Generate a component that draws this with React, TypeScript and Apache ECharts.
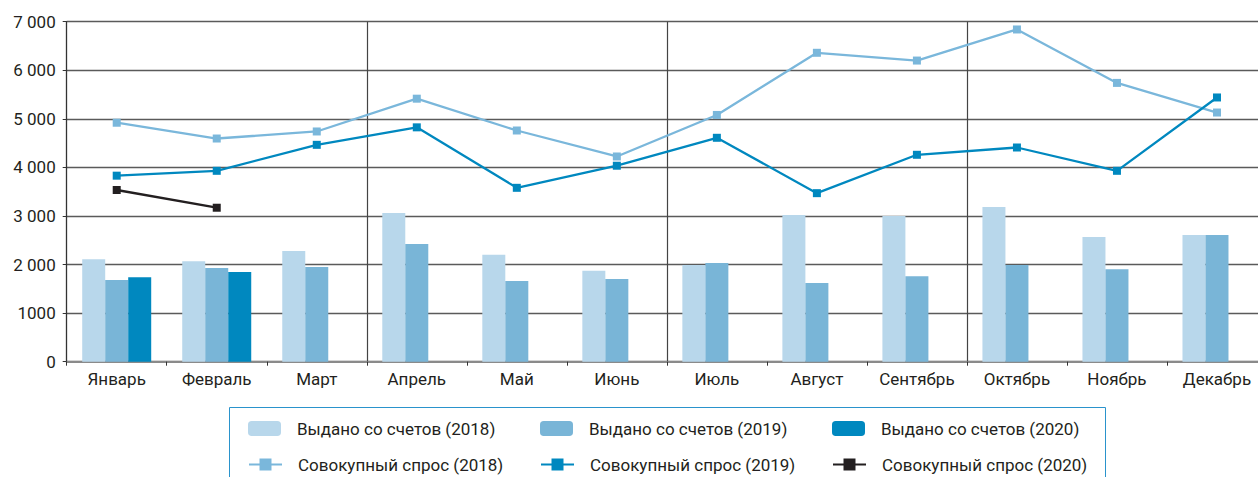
import React, { useEffect, useRef } from "react";
import * as echarts from "echarts";

const months = ["Январь", "Февраль", "Март", "Апрель", "Май", "Июнь", "Июль", "Август", "Сентябрь", "Октябрь", "Ноябрь", "Декабрь"];
const issued2018 = [2110, 2070, 2280, 3060, 2200, 1870, 1990, 3020, 3000, 3185, 2565, 2610];
const issued2019 = [1680, 1930, 1950, 2425, 1660, 1705, 2030, 1620, 1760, 1990, 1905, 2610];
const issued2020 = [1740, 1845, null, null, null, null, null, null, null, null, null, null];
const demand2018 = [4920, 4595, 4740, 5415, 4760, 4225, 5080, 6360, 6200, 6840, 5740, 5130];
const demand2019 = [3830, 3930, 4465, 4825, 3580, 4035, 4610, 3470, 4260, 4410, 3930, 5440];
const demand2020 = [3535, 3170, null, null, null, null, null, null, null, null, null, null];
const yTicks = { min: 0, max: 7000, interval: 1000 };

const names = [
  "Выдано со счетов (2018)",
  "Выдано со счетов (2019)",
  "Выдано со счетов (2020)",
  "Совокупный спрос (2018)",
  "Совокупный спрос (2019)",
  "Совокупный спрос (2020)",
];

const FONT = "Roboto";
const TXT = "#231F20";

export default function App() {
  const ref = useRef<HTMLDivElement>(null);
  useEffect(() => {
    document.body.style.margin = "0";
    const chart = echarts.init(ref.current!, null, { renderer: "svg" });
    const colLeft = [248, 540, 832];
    const legends: any[] = names.map((n, i) => ({
      data: [n],
      left: colLeft[i % 3],
      top: i < 3 ? 420 : 456,
      padding: 0,
      itemWidth: 33,
      itemHeight: 15,
      selectedMode: false,
      textStyle: { fontFamily: FONT, fontSize: 17, color: TXT, padding: [0, 0, 0, 11] },
    }));
    const fmt = (v: number) => (v >= 2000 ? String(v).replace(/(\d)(\d{3})$/, "$1 $2") : String(v));
    chart.setOption({
      animation: false,
      textStyle: { fontFamily: FONT },
      legend: legends,
      graphic: [
        {
          type: "rect",
          shape: { x: 229.5, y: 407.5, width: 876, height: 100 },
          style: { fill: "none", stroke: "#2A93CC", lineWidth: 1 },
          silent: true,
        },
      ],
      grid: { left: 66.7, right: 0, top: 21.7, bottom: 115.3 },
      xAxis: {
        type: "category",
        data: months,
        boundaryGap: true,
        axisLine: { show: true, lineStyle: { color: "#8a8a8a", width: 2 } },
        axisTick: { show: true, length: 4, interval: 0, lineStyle: { color: "#333" } },
        axisLabel: { interval: 0, fontFamily: FONT, fontSize: 17, color: TXT, margin: 9 },
        splitLine: {
          show: true,
          interval: (i: number) => i % 3 === 0 && i !== 0,
          lineStyle: { color: "#444", width: 1.2 },
        },
      },
      yAxis: {
        type: "value",
        min: yTicks.min,
        max: yTicks.max,
        interval: yTicks.interval,
        axisLine: { show: true, lineStyle: { color: "#333", width: 1.3 } },
        axisTick: { show: true, length: 4, lineStyle: { color: "#333" } },
        axisLabel: { fontFamily: FONT, fontSize: 17, color: TXT, margin: 11, formatter: fmt },
        splitLine: { show: true, lineStyle: { color: "#5a5a5a", width: 1.3 } },
      },
      series: [
        { name: names[0], type: "bar", data: issued2018, barWidth: 23, barGap: "0%", itemStyle: { color: "#B8D7EB" } },
        { name: names[1], type: "bar", data: issued2019, barWidth: 23, barGap: "0%", itemStyle: { color: "#79B5D7" } },
        { name: names[2], type: "bar", data: issued2020, barWidth: 23, barGap: "0%", itemStyle: { color: "#0088BF" } },
        {
          name: names[3], type: "line", data: demand2018, symbol: "rect", symbolSize: 8, z: 5,
          lineStyle: { color: "#7AB7DB", width: 2.3 }, itemStyle: { color: "#7AB7DB" },
        },
        {
          name: names[4], type: "line", data: demand2019, symbol: "rect", symbolSize: 8, z: 6,
          lineStyle: { color: "#0088BF", width: 2.3 }, itemStyle: { color: "#0088BF" },
        },
        {
          name: names[5], type: "line", data: demand2020, symbol: "rect", symbolSize: 8, z: 7,
          lineStyle: { color: "#231F20", width: 2.3 }, itemStyle: { color: "#231F20" },
        },
      ],
    });
    return () => chart.dispose();
  }, []);
  return (
    <div style={{ width: 1258, height: 477, overflow: "hidden", position: "relative" }}>
      <div ref={ref} style={{ width: 1267, height: 477 }} />
    </div>
  );
}
